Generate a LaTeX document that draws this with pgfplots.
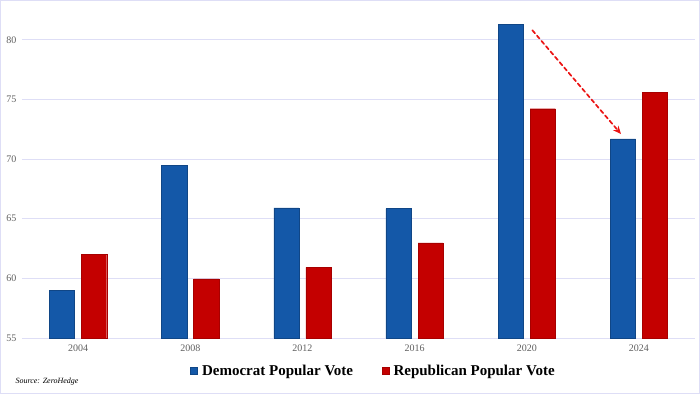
\documentclass[border=0pt]{standalone}
\usepackage{pgfplots}
\pgfplotsset{compat=1.18}
\usepackage{fontspec}
\setmainfont{Liberation Serif}
\usetikzlibrary{arrows.meta}
\definecolor{demblue}{RGB}{20,88,168}
\definecolor{repred}{RGB}{196,0,0}
\definecolor{arrowred}{RGB}{235,20,20}
\definecolor{gridc}{RGB}{222,222,246}
\definecolor{tickc}{RGB}{95,95,95}
\begin{document}
\begin{tikzpicture}[x=1pt,y=1pt]
\draw[gridc, line width=0.8pt] (0.4,0.4) rectangle (699.6,393.6);
\useasboundingbox (0,0) rectangle (700,394);
\begin{axis}[
  at={(22pt,56pt)}, anchor=south west,
  scale only axis, width=673pt, height=334pt,
  xmin=-0.5, xmax=5.5, ymin=55, ymax=83,
  axis line style={draw=none},
  xtick={0,1,2,3,4,5},
  xticklabels={2004,2008,2012,2016,2020,2024},
  ytick={55,60,65,70,75,80},
  ymajorgrids, grid style={gridc, line width=0.6pt},
  major tick length=0pt,
  tick label style={font=\fontsize{10}{12}\selectfont, text=tickc},
  /pgf/number format/assume math mode=true,
  xticklabel style={yshift=-3pt},
  yticklabel style={xshift=-2pt},
  ybar, bar width=0.225,
  legend style={at={(0.524,-0.099)}, anchor=center, draw=none, fill=none,
    font=\fontsize{15}{18}\selectfont\bfseries, legend columns=2,
    /tikz/every even column/.append style={column sep=24pt},
    /tikz/every node/.append style={inner xsep=4.5pt}},
  legend image code/.code={\fill[#1] (0pt,-3.5pt) rectangle (7pt,3.5pt);},
  clip=false,
]
\addplot[fill=demblue, draw=demblue!80!black, bar shift=-0.143] coordinates {
 (0,59.0) (1,69.5) (2,65.9) (3,65.85) (4,81.28) (5,71.7)};
\addlegendentry{Democrat Popular Vote}
\addplot[fill=repred, draw=repred!85!black, bar shift=0.143] coordinates {
 (0,62.0) (1,59.95) (2,60.93) (3,62.98) (4,74.22) (5,75.6)};
\addlegendentry{Republican Popular Vote}
\draw[arrowred, line width=1.7pt, line cap=round, dash pattern=on 4pt off 3pt, -{Stealth[length=8pt,width=7pt]}]
  (axis cs:4.05,80.8) -- (axis cs:4.84,72.1);
\end{axis}
\node[anchor=west, font=\fontsize{8}{10}\selectfont\itshape] at (12,12) {Source: ZeroHedge};
\end{tikzpicture}
\end{document}
